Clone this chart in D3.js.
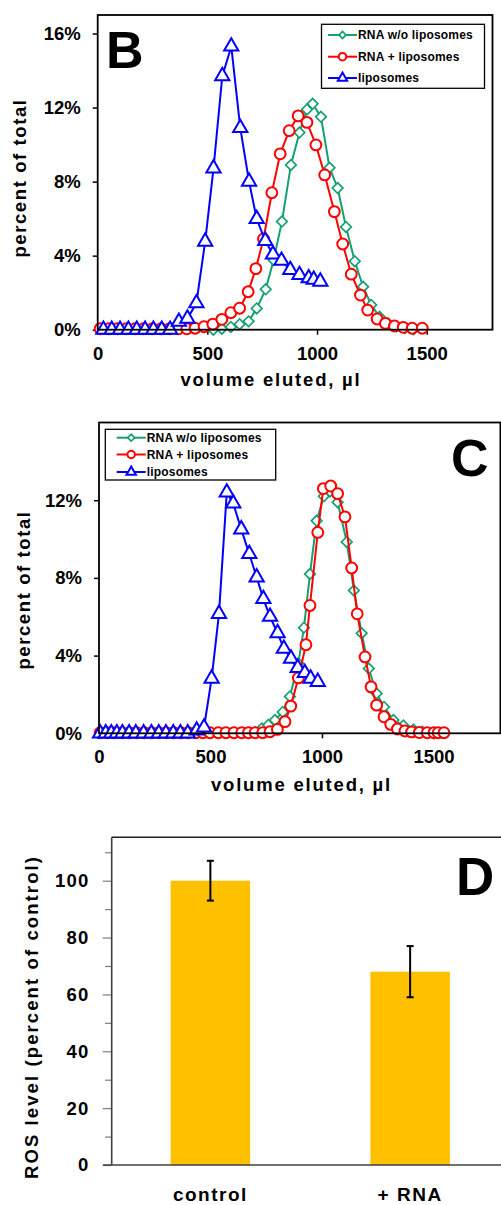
<!DOCTYPE html>
<html>
<head>
<meta charset="utf-8">
<script src="https://cdn.jsdelivr.net/npm/d3@7"></script>
<style>
  body { margin: 0; background: #fff; }
  text { font-family: "Liberation Sans", Arial, sans-serif; font-weight: bold; fill: #000; }
</style>
</head>
<body>
<svg width="501" height="1205"></svg>
<script>
// ---- data, panel B ----
var bFreeX = [527, 566, 607, 647, 688, 725, 766, 802, 840, 881, 920, 954, 980, 1018, 1057, 1094, 1132, 1172, 1210, 1247, 1285, 1323, 1362, 1400, 1440];
var bFreeY = [0.0, 0.05, 0.15, 0.3, 0.45, 1.15, 2.18, 3.77, 5.84, 8.9, 10.65, 11.9, 12.2, 11.5, 8.75, 7.65, 5.55, 3.7, 2.32, 1.34, 0.7, 0.35, 0.18, 0.08, 0.03];
var bBoundX = [11, 51, 90, 130, 170, 209, 249, 289, 328, 368, 406, 444, 485, 525, 566, 607, 647, 686, 721, 756, 794, 832, 873, 914, 954, 995, 1035, 1079, 1117, 1156, 1198, 1231, 1274, 1312, 1353, 1393, 1434, 1480];
var bBoundY = [0.05, 0.05, 0.05, 0.05, 0.05, 0.05, 0.05, 0.05, 0.05, 0.05, 0.05, 0.08, 0.16, 0.3, 0.56, 0.92, 1.16, 2.05, 3.3, 4.9, 7.4, 9.5, 10.75, 11.55, 11.2, 9.98, 8.36, 6.38, 4.63, 3.0, 1.87, 1.06, 0.58, 0.34, 0.2, 0.13, 0.08, 0.08];
var bLipoX = [26, 64, 102, 140, 178, 216, 254, 292, 330, 370, 409, 450, 490, 528, 568, 609, 650, 690, 725, 764, 799, 838, 878, 920, 962, 985, 1015];
var bLipoY = [0, 0, 0, 0, 0, 0, 0, 0, 0, 0.43, 0.6, 1.43, 4.76, 8.72, 13.7, 15.3, 10.9, 8.0, 5.98, 4.8, 4.07, 3.73, 3.23, 2.96, 2.78, 2.7, 2.6];

// ---- data, panel C ----
var cFreeX = [700, 730, 759, 789, 824, 856, 894, 919, 946, 976, 1008, 1036, 1070, 1111, 1143, 1178, 1210, 1245, 1278, 1320, 1365, 1410, 1450, 1500];
var cFreeY = [0.05, 0.25, 0.43, 0.68, 1.1, 1.9, 3.6, 5.44, 8.2, 10.94, 12.2, 12.45, 11.9, 9.85, 7.35, 5.15, 3.33, 2.05, 1.36, 0.68, 0.4, 0.2, 0.08, 0.02];
var cBoundX = [5, 38, 71, 104, 137, 170, 203, 236, 269, 302, 335, 368, 401, 434, 466, 498, 535, 569, 605, 640, 670, 700, 734, 767, 800, 834, 860, 894, 928, 946, 981, 1006, 1039, 1070, 1103, 1133, 1158, 1193, 1220, 1245, 1278, 1308, 1338, 1372, 1402, 1436, 1472, 1502, 1521, 1547];
var cBoundY = [0.03, 0.03, 0.03, 0.03, 0.03, 0.03, 0.03, 0.03, 0.03, 0.03, 0.03, 0.03, 0.03, 0.03, 0.03, 0.03, 0.03, 0.03, 0.03, 0.03, 0.03, 0.03, 0.03, 0.08, 0.2, 0.6, 1.4, 2.85, 4.56, 6.58, 10.34, 12.6, 12.73, 12.34, 11.14, 8.51, 6.15, 3.93, 2.39, 1.45, 0.85, 0.46, 0.22, 0.12, 0.07, 0.04, 0.03, 0.03, 0.03, 0.03];
var cLipoX = [5, 30, 55, 80, 105, 135, 165, 200, 235, 268, 300, 333, 365, 398, 438, 471, 505, 538, 573, 602, 638, 674, 707, 737, 767, 801, 829, 861, 891, 923, 949, 981];
var cLipoY = [0, 0, 0, 0, 0, 0, 0, 0, 0, 0, 0, 0, 0, 0, 0.15, 0.3, 2.82, 6.15, 12.4, 11.83, 10.5, 9.23, 8.03, 6.92, 6.0, 5.16, 4.36, 3.85, 3.37, 3.11, 2.82, 2.65];

var seriesNames = ["RNA w/o liposomes", "RNA + liposomes", "liposomes"];
var seriesColors = ["#14a070", "#ff0000", "#0000ff"];
var seriesShapes = ["diamond", "circle", "triangle"];
var xTicks = [0, 500, 1000, 1500];

// ---- data, panel D ----
var dCategories = ["control", "+ RNA"];
var dValues = [100, 68];
var dErrors = [7, 9];
var dTicks = [0, 20, 40, 60, 80, 100];
var dMinorTicks = [10, 30, 50, 70, 90, 110];

var svg = d3.select("svg");

function symbolPath(shape, small) {
  if (shape == "circle") return d3.symbol(d3.symbolCircle, small ? 44 : 92)();
  if (shape == "triangle") return d3.symbol(d3.symbolTriangle, small ? 38 : 88)();
  return d3.symbol(d3.symbolSquare, small ? 24 : 56)();
}

function addMarker(g, shape, color, cx, cy, small) {
  g.append("path")
    .attr("d", symbolPath(shape, small))
    .attr("transform", "translate(" + cx + "," + cy + ")" + (shape == "diamond" ? " rotate(45)" : ""))
    .attr("fill", "#fff")
    .attr("stroke", color)
    .attr("stroke-width", shape == "diamond" ? 1.7 : 2);
}

function styleAxis(sel) {
  sel.select(".domain").remove();
  sel.selectAll(".tick line").attr("stroke", "#000").attr("stroke-width", 1.5);
  sel.selectAll(".tick text").attr("font-size", "18.5px").attr("fill", "#000")
    .attr("font-family", "'Liberation Sans', Arial, sans-serif").attr("font-weight", "bold");
}

function drawPanel(cfg) {
  var g = svg.append("g");
  var x = d3.scaleLinear().domain([0, 1800]).range([cfg.left, cfg.right]);
  var y = d3.scaleLinear().domain([0, cfg.yMax]).range([cfg.bottom, cfg.top]);

  g.append("g")
    .attr("transform", "translate(0," + cfg.bottom + ")")
    .call(d3.axisBottom(x).tickValues(xTicks).tickFormat(d3.format("d")).tickSize(5).tickPadding(12))
    .call(styleAxis);
  g.append("g")
    .attr("transform", "translate(" + cfg.left + ",0)")
    .call(d3.axisLeft(y).tickValues(cfg.yTicks).tickFormat(function (d) { return d + "%"; }).tickSize(5).tickPadding(12))
    .call(styleAxis);

  var line = d3.line()
    .x(function (d) { return x(d[0]); })
    .y(function (d) { return y(d[1]); });

  cfg.series.forEach(function (s, i) {
    var pts = d3.zip(s[0], s[1]);
    g.append("path")
      .attr("d", line(pts))
      .attr("fill", "none")
      .attr("stroke", seriesColors[i])
      .attr("stroke-width", 2);
    pts.forEach(function (p) {
      addMarker(g, seriesShapes[i], seriesColors[i], x(p[0]), y(p[1]), false);
    });
  });

  // frame
  g.append("rect")
    .attr("x", cfg.left).attr("y", cfg.top)
    .attr("width", cfg.right - cfg.left).attr("height", cfg.bottom - cfg.top)
    .attr("fill", "none").attr("stroke", "#000").attr("stroke-width", 1.8);

  // legend
  var lg = cfg.legend;
  g.append("rect")
    .attr("x", lg.x).attr("y", lg.y).attr("width", lg.w).attr("height", lg.h)
    .attr("fill", "#fff").attr("stroke", "#000").attr("stroke-width", 1.3);
  seriesNames.forEach(function (name, i) {
    var ry = lg.rows[i];
    g.append("line")
      .attr("x1", lg.lineX).attr("x2", lg.lineX + 29).attr("y1", ry).attr("y2", ry)
      .attr("stroke", seriesColors[i]).attr("stroke-width", 2);
    addMarker(g, seriesShapes[i], seriesColors[i], lg.lineX + 14.5, ry, true);
    g.append("text")
      .attr("x", lg.lineX + 30).attr("y", ry).attr("dy", "0.36em")
      .attr("font-size", "12px").attr("letter-spacing", "0.2px")
      .text(name);
  });

  // panel letter
  g.append("text").attr("x", cfg.letterX).attr("y", cfg.letterY)
    .attr("font-size", "52px").text(cfg.letter);

  // axis titles
  g.append("text")
    .attr("x", cfg.xTitleX).attr("y", cfg.xTitleY)
    .attr("text-anchor", "middle").attr("font-size", "18.5px").attr("letter-spacing", "1.8px")
    .text("volume eluted, \u00b5l");
  g.append("text")
    .attr("transform", "translate(" + cfg.yTitleX + "," + cfg.yTitleY + ") rotate(-90)")
    .attr("text-anchor", "middle").attr("font-size", "18.5px").attr("letter-spacing", "1.6px")
    .text("percent of total");
}

drawPanel({
  left: 97.7, right: 492.5, top: 15, bottom: 329.7, yMax: 17,
  yTicks: [0, 4, 8, 12, 16],
  series: [[bFreeX, bFreeY], [bBoundX, bBoundY], [bLipoX, bLipoY]],
  legend: { x: 321.5, y: 24.3, w: 163, h: 64, lineX: 328, rows: [35, 56.7, 78] },
  letter: "B", letterX: 106, letterY: 68,
  xTitleX: 271, xTitleY: 386, yTitleX: 26, yTitleY: 178
});

drawPanel({
  left: 99, right: 500.4, top: 422.5, bottom: 733.3, yMax: 16,
  yTicks: [0, 4, 8, 12],
  series: [[cFreeX, cFreeY], [cBoundX, cBoundY], [cLipoX, cLipoY]],
  legend: { x: 105.3, y: 429.3, w: 170.4, h: 50.7, lineX: 116.7, rows: [437.7, 454.5, 472] },
  letter: "C", letterX: 451, letterY: 476,
  xTitleX: 301.5, xTitleY: 791, yTitleX: 29.5, yTitleY: 590
});

// ---- panel D ----
var dLeft = 111.7, dTop = 837.3, dBottom = 1165;
var xD = d3.scalePoint().domain(dCategories).range([110.5, 510]).padding(0.5);
var yD = d3.scaleLinear().domain([0, 115]).range([dBottom, dBottom - 115 * 2.843]);
var barW = 79.5;
var gD = svg.append("g");

gD.selectAll("rect.bar")
  .data(dValues)
  .enter().append("rect")
  .attr("class", "bar")
  .attr("x", function (d, i) { return xD(dCategories[i]) - barW / 2; })
  .attr("y", function (d) { return yD(d); })
  .attr("width", barW)
  .attr("height", function (d) { return dBottom - yD(d); })
  .attr("fill", "#ffc000");

// error bars
dValues.forEach(function (v, i) {
  var cx = xD(dCategories[i]);
  gD.append("line").attr("x1", cx).attr("x2", cx)
    .attr("y1", yD(v + dErrors[i])).attr("y2", yD(v - dErrors[i]))
    .attr("stroke", "#000").attr("stroke-width", 2);
  [v + dErrors[i], v - dErrors[i]].forEach(function (e) {
    gD.append("line").attr("x1", cx - 3.5).attr("x2", cx + 3.5)
      .attr("y1", yD(e)).attr("y2", yD(e))
      .attr("stroke", "#000").attr("stroke-width", 2);
  });
});

gD.append("g")
  .attr("transform", "translate(" + dLeft + ",0)")
  .call(d3.axisLeft(yD).tickValues(dMinorTicks).tickSize(6.7).tickFormat(""))
  .call(function (s) {
    s.select(".domain").remove();
    s.selectAll(".tick line").attr("stroke", "#7f7f7f").attr("stroke-width", 1.2);
  });
gD.append("g")
  .attr("transform", "translate(" + dLeft + ",0)")
  .call(d3.axisLeft(yD).tickValues(dTicks).tickSize(9).tickPadding(13))
  .call(function (s) {
    s.select(".domain").remove();
    s.selectAll(".tick line").attr("stroke", "#7f7f7f").attr("stroke-width", 1.2);
    s.selectAll(".tick text").attr("font-size", "18.5px").attr("fill", "#000")
      .attr("letter-spacing", "1.3px")
      .attr("font-family", "'Liberation Sans', Arial, sans-serif").attr("font-weight", "bold");
  });

// frame lines of D
gD.append("line").attr("x1", dLeft).attr("x2", dLeft).attr("y1", dTop).attr("y2", dBottom)
  .attr("stroke", "#404040").attr("stroke-width", 1.6);
gD.append("line").attr("x1", dLeft).attr("x2", 501).attr("y1", dTop).attr("y2", dTop)
  .attr("stroke", "#202020").attr("stroke-width", 1.6);
gD.append("line").attr("x1", 103).attr("x2", 501).attr("y1", dBottom).attr("y2", dBottom)
  .attr("stroke", "#404040").attr("stroke-width", 1.6);

gD.selectAll("text.cat")
  .data(dCategories)
  .enter().append("text")
  .attr("class", "cat")
  .attr("x", function (d) { return xD(d); })
  .attr("y", 1201)
  .attr("text-anchor", "middle")
  .attr("font-size", "19px")
  .attr("letter-spacing", "1.5px")
  .text(function (d) { return d; });

gD.append("text").attr("x", 456).attr("y", 895).attr("font-size", "53px").text("D");

gD.append("text")
  .attr("transform", "translate(38,1017) rotate(-90)")
  .attr("text-anchor", "middle").attr("font-size", "18.5px").attr("letter-spacing", "2.1px")
  .text("ROS level (percent of control)");
</script>
</body>
</html>
